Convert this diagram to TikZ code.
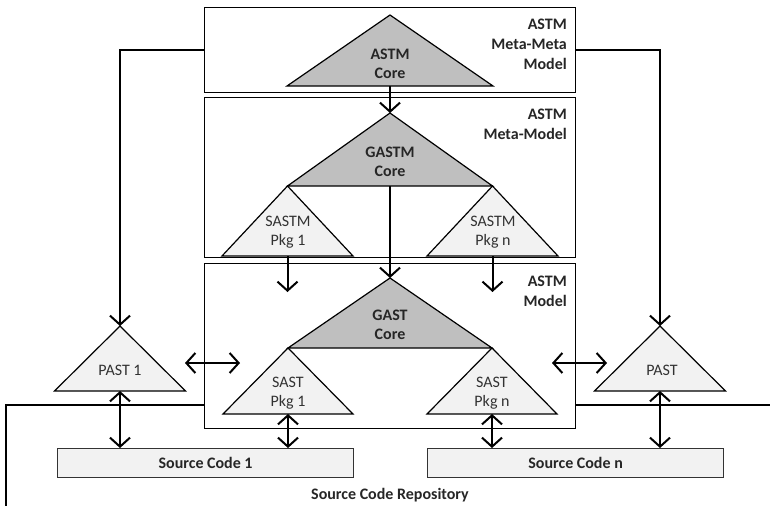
\documentclass[tikz,border=0pt]{standalone}
\usepackage{fontspec}
\setmainfont{Carlito}
\usetikzlibrary{arrows.meta}
\definecolor{dk}{RGB}{191,191,191}
\definecolor{lt}{RGB}{242,242,242}
\definecolor{txt}{RGB}{50,50,50}
\tikzset{
 box/.style={draw=black, line width=1.2pt, fill=white, inner sep=0pt, anchor=north west},
 srcbox/.style={draw=black!80, line width=1.2pt, fill=lt, inner sep=0pt, anchor=north west, minimum width=296pt, minimum height=29pt, font=\fontsize{16}{18}\selectfont\bfseries, text=black!85},
 tri/.style={draw=black, line width=1.2pt},
 conn/.style={line width=2pt, -{Straight Barb[length=9pt,width=20pt,line width=2pt]}},
 dconn/.style={line width=2pt, {Straight Barb[length=9pt,width=20pt,line width=2pt]}-{Straight Barb[length=9pt,width=20pt,line width=2pt]}},
 lbl/.style={font=\fontsize{16}{20}\selectfont\bfseries, align=right, anchor=north east, inner sep=0pt, text=black!85},
 ttl/.style={font=\fontsize{16}{18.5}\selectfont\bfseries, align=center, inner sep=0pt, text=black!85},
 reg/.style={font=\fontsize{16}{19}\selectfont, align=center, text=txt, inner sep=0pt},
}
% \mktri{name}{apex x}{apex y}{half width}{height}{fill}
\newcommand{\mktri}[6]{%
 \coordinate (#1-apex) at (#2,#3);
 \coordinate (#1-base) at (#2,#3+#5);
 \fill[#6] (#1-apex) -- ++(-#4,#5) -- ++(2*#4,0) -- cycle;
 \draw[tri] (#1-apex) -- ++(-#4,#5) -- ++(2*#4,0) -- cycle;
}
\begin{document}
\begin{tikzpicture}[x=1pt,y=-1pt]
\useasboundingbox (0,0) rectangle (770,506);
% repository frame
\coordinate (repoR) at (770,405);
\coordinate (repoC) at (6,405);
\coordinate (repoB) at (6,506);
\draw[line width=1.2pt] (repoR) -- (repoC) -- (repoB);
\node[ttl] (repo) at (390,495) {Source Code Repository};

% model boxes
\node[box, minimum width=371pt, minimum height=85pt] (mm) at (204,7) {};
\node[box, minimum width=371pt, minimum height=160pt] (meta) at (204,97) {};
\node[box, minimum width=371pt, minimum height=165pt] (model) at (204,263) {};

\node[lbl] (mmlbl) at (567,19) {ASTM\\Meta-Meta\\Model};
\node[lbl] (metalbl) at (567,109) {ASTM\\Meta-Model};
\node[lbl] (modellbl) at (567,276) {ASTM\\Model};

% triangles
\mktri{astm}{390}{15}{103}{71}{dk}
\mktri{gastm}{390}{113}{102.5}{73}{dk}
\mktri{sastmA}{287.5}{186}{65.5}{70}{lt}
\mktri{sastmN}{492.5}{186}{65.5}{70}{lt}
\mktri{gast}{390}{278}{102}{70}{dk}
\mktri{sastA}{288}{348}{65}{66}{lt}
\mktri{sastN}{492}{348}{65}{66}{lt}
\mktri{pastA}{120}{326}{65.5}{65}{lt}
\mktri{pastN}{660}{326}{65.5}{65}{lt}

\node[ttl] (astmT) at (390,64) {ASTM\\Core};
\node[ttl] (gastmT) at (390,162) {GASTM\\Core};
\node[reg] (sastmAT) at (288,232) {SASTM\\Pkg 1};
\node[reg] (sastmNT) at (493,232) {SASTM\\Pkg n};
\node[ttl] (gastT) at (390,325) {GAST\\Core};
\node[reg] (sastAT) at (288,393) {SAST\\Pkg 1};
\node[reg] (sastNT) at (492,393) {SAST\\Pkg n};
\node[reg] (pastAT) at (120,370) {PAST 1};
\node[reg] (pastNT) at (662,370) {PAST};

% source code boxes
\node[srcbox] (sc1) at (57,448) {Source Code 1};
\node[srcbox] (scn) at (427,448) {Source Code n};

% connectors
\draw[conn] (mm.west |- 0,50) -| (pastA-apex);
\draw[conn] (mm.east |- 0,50) -| (pastN-apex);
\draw[conn] (astm-base) -- (gastm-apex);
\draw[conn] (gastm-base) -- (gast-apex);
\coordinate (sastmAend) at (287.5,292);
\coordinate (sastmNend) at (492.5,292);
\draw[conn] (sastmA-base) -- (sastmAend);
\draw[conn] (sastmN-base) -- (sastmNend);

\coordinate (lA) at (185,363);
\coordinate (lB) at (240,363);
\coordinate (rA) at (552,363);
\coordinate (rB) at (607,363);
\draw[dconn] (lA) -- (lB);
\draw[dconn] (rA) -- (rB);

\draw[dconn] (pastA-base) -- (pastA-base |- sc1.north);
\draw[dconn] (sastA-base) -- (sastA-base |- sc1.north);
\draw[dconn] (sastN-base) -- (sastN-base |- scn.north);
\draw[dconn] (pastN-base) -- (pastN-base |- scn.north);
\end{tikzpicture}
\end{document}
